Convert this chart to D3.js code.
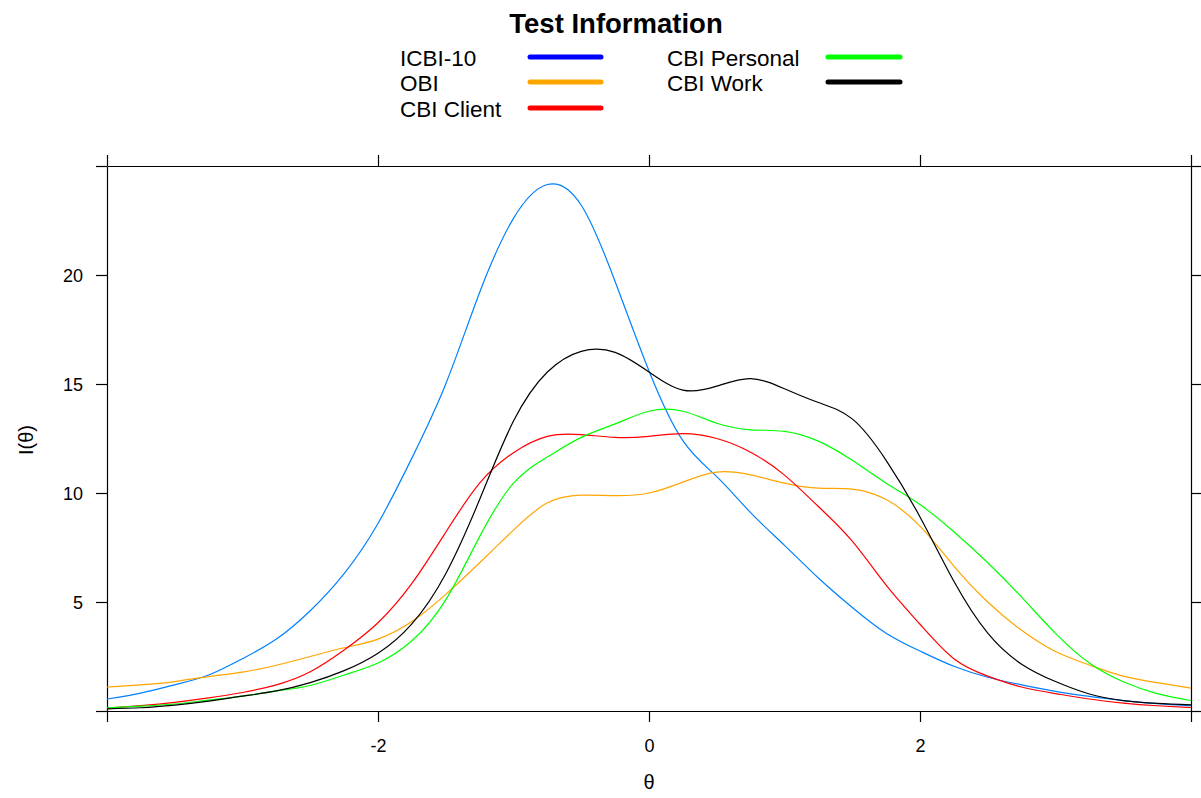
<!DOCTYPE html>
<html>
<head>
<meta charset="utf-8">
<script src="https://cdn.jsdelivr.net/npm/d3@7"></script>
<style>
  html, body { margin: 0; padding: 0; background: #fff; }
  svg { display: block; font-family: "Liberation Sans", Arial, sans-serif; }
</style>
</head>
<body>
<svg id="chart" width="1201" height="798"></svg>
<script>
// ---- data ----
const theta = [-4, -3.75, -3.5, -3.25, -3, -2.75, -2.5, -2.25, -2, -1.75, -1.5, -1.25, -1, -0.75, -0.5, -0.25,
               0, 0.25, 0.5, 0.75, 1, 1.25, 1.5, 1.75, 2, 2.25, 2.5, 2.75, 3, 3.25, 3.5, 3.75, 4];

const icbi10 = [0.55, 0.82, 1.2, 1.65, 2.4, 3.3, 4.6, 6.3, 8.6, 11.6, 15.0, 19.2, 22.6, 24.15, 23.2, 19.7,
                15.6, 12.4, 10.75, 9.1, 7.6, 6.1, 4.75, 3.57, 2.75, 2.05, 1.55, 1.2, 0.9, 0.67, 0.48, 0.34, 0.25];
const obi = [1.1, 1.2, 1.35, 1.58, 1.78, 2.1, 2.5, 2.9, 3.3, 4.1, 5.35, 6.8, 8.3, 9.55, 9.9, 9.88,
             10.0, 10.5, 10.96, 10.83, 10.45, 10.22, 10.18, 9.7, 8.48, 6.65, 5.0, 3.7, 2.73, 2.11, 1.6, 1.3, 1.05];
const cbiClient = [0.13, 0.25, 0.4, 0.6, 0.85, 1.2, 1.8, 2.8, 4.05, 5.85, 8.2, 10.45, 11.85, 12.6, 12.68, 12.55,
                   12.6, 12.72, 12.5, 11.87, 10.82, 9.38, 7.79, 5.77, 3.98, 2.4, 1.6, 1.1, 0.8, 0.55, 0.36, 0.24, 0.16];
const cbiPersonal = [0.15, 0.22, 0.32, 0.5, 0.68, 0.92, 1.17, 1.65, 2.2, 3.22, 5.1, 8.0, 10.45, 11.65, 12.55, 13.17,
                     13.75, 13.75, 13.2, 12.9, 12.83, 12.38, 11.5, 10.45, 9.47, 8.22, 6.8, 5.22, 3.56, 2.2, 1.34, 0.8, 0.48];
const cbiWork = [0.1, 0.15, 0.27, 0.45, 0.68, 0.92, 1.3, 1.85, 2.65, 4.0, 6.3, 9.7, 13.3, 15.55, 16.5, 16.45,
                 15.55, 14.72, 14.9, 15.25, 14.78, 14.15, 13.4, 11.5, 8.9, 5.95, 3.57, 2.15, 1.35, 0.78, 0.48, 0.35, 0.28];

const seriesNames = ["ICBI-10", "OBI", "CBI Client", "CBI Personal", "CBI Work"];
const seriesValues = [icbi10, obi, cbiClient, cbiPersonal, cbiWork];
const lineColors = ["#0080ff", "#ffa500", "#ff0000", "#00ff00", "#000000"];
const legendColors = ["#0000ff", "#ffa500", "#ff0000", "#00ff00", "#000000"];

const xTicks = [-4, -2, 0, 2, 4];
const xTickLabels = ["", "-2", "0", "2", ""];
const yTicks = [0, 5, 10, 15, 20, 25];
const yTickLabels = ["", "5", "10", "15", "20", ""];

const titleText = "Test Information";
const xTitle = "θ";
const yTitle = "I(θ)";

// ---- layout ----
const svg = d3.select("#chart");
const L = 107, R = 1191, T = 166, B = 711;
const x = d3.scaleLinear().domain([-4, 4]).range([L, R]);
const y = d3.scaleLinear().domain([0, 25]).range([B, T]);

svg.append("defs").append("clipPath").attr("id", "clip")
  .append("rect").attr("x", L).attr("y", T).attr("width", R - L).attr("height", B - T);

// title
svg.append("text").attr("x", 616).attr("y", 33).attr("text-anchor", "middle")
  .attr("font-size", 27.5).attr("font-weight", "bold").attr("fill", "#000").text(titleText);

// legend
const legendItems = seriesNames.map((n, i) => ({ name: n, color: legendColors[i], i }));
const legCols = [
  { tx: 400, lx1: 530, lx2: 601 },
  { tx: 667, lx1: 828, lx2: 900 }
];
const rowY = [57, 82, 108];
legendItems.forEach(d => {
  const col = d.i < 3 ? 0 : 1;
  const row = d.i < 3 ? d.i : d.i - 3;
  const c = legCols[col];
  const g = svg.append("g");
  g.append("text").attr("x", c.tx).attr("y", rowY[row] + 8.5).attr("font-size", 22.5)
    .attr("fill", "#000").text(d.name);
  g.append("line").attr("x1", c.lx1).attr("x2", c.lx2).attr("y1", rowY[row]).attr("y2", rowY[row])
    .attr("stroke", d.color).attr("stroke-width", 5).attr("stroke-linecap", "round");
});

// axes (ticks outward on all four sides)
const tickLen = 11;
const axBottom = d3.axisBottom(x).tickValues(xTicks).tickSize(tickLen).tickSizeOuter(0)
  .tickFormat((d, i) => xTickLabels[i]);
const axTop = d3.axisTop(x).tickValues(xTicks).tickSize(tickLen).tickSizeOuter(0).tickFormat("");
const axLeft = d3.axisLeft(y).tickValues(yTicks).tickSize(tickLen).tickSizeOuter(0)
  .tickFormat((d, i) => yTickLabels[i]);
const axRight = d3.axisRight(y).tickValues(yTicks).tickSize(tickLen).tickSizeOuter(0).tickFormat("");

function styleAxis(g) {
  g.selectAll("path, line").attr("stroke", "#000").attr("stroke-width", 1.2);
  g.selectAll("text").attr("fill", "#000").attr("font-size", 18)
    .attr("font-family", "'Liberation Sans', Arial, sans-serif");
}
svg.append("g").attr("transform", `translate(0,${B})`).call(axBottom).call(styleAxis)
  .selectAll("text").attr("dy", "0").attr("y", 41);
svg.append("g").attr("transform", `translate(0,${T})`).call(axTop).call(styleAxis);
svg.append("g").attr("transform", `translate(${L},0)`).call(axLeft).call(styleAxis)
  .selectAll("text").attr("x", -24).attr("dy", "0.35em");
svg.append("g").attr("transform", `translate(${R},0)`).call(axRight).call(styleAxis);

// axis titles
svg.append("text").attr("x", (L + R) / 2).attr("y", 789).attr("text-anchor", "middle")
  .attr("font-size", 20).attr("fill", "#000").text(xTitle);
svg.append("text").attr("transform", "translate(33,440) rotate(-90)").attr("text-anchor", "middle")
  .attr("font-size", 20).attr("fill", "#000").text(yTitle);

// curves
const line = d3.line().x(d => x(d[0])).y(d => y(d[1])).curve(d3.curveNatural);
const plot = svg.append("g").attr("clip-path", "url(#clip)");
seriesValues.forEach((vals, i) => {
  plot.append("path").datum(theta.map((t, k) => [t, vals[k]]))
    .attr("fill", "none").attr("stroke", lineColors[i]).attr("stroke-width", 1.2)
    .attr("d", line);
});
</script>
</body>
</html>
